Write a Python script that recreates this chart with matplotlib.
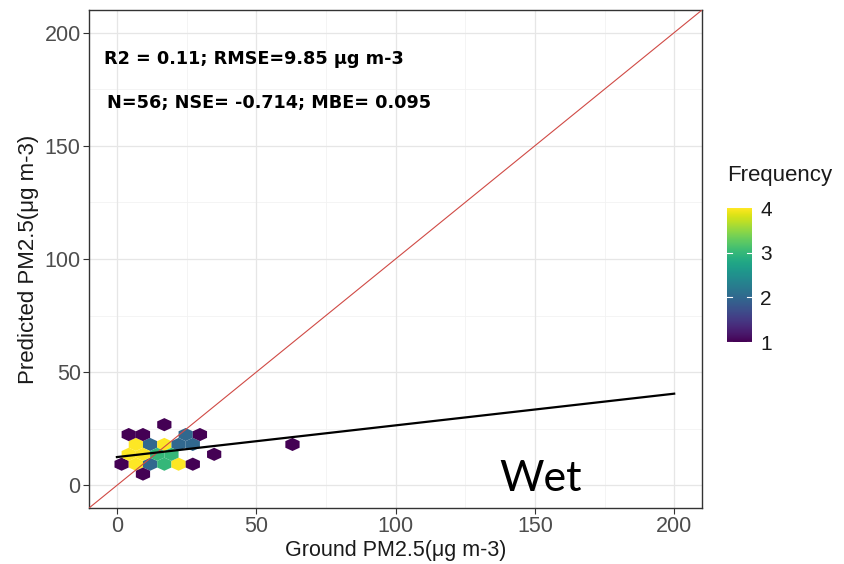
import numpy as np
import matplotlib
matplotlib.use("Agg")
import matplotlib.pyplot as plt

plt.rcParams['font.family'] = ['Liberation Sans', 'DejaVu Sans']

# hex cell readings: ground PM2.5, predicted PM2.5, number of stations in the cell
ground = [17.0,
          4.2, 9.4, 24.7, 29.8,
          6.8, 11.9, 17.0, 22.1, 27.2, 63.0,
          4.2, 9.4, 14.5, 19.6, 34.9,
          1.7, 6.8, 11.9, 17.0, 22.1, 27.2,
          9.4]
predicted = [26.8,
             22.45, 22.45, 22.45, 22.45,
             18.1, 18.1, 18.1, 18.1, 18.1, 18.1,
             13.7, 13.7, 13.7, 13.7, 13.7,
             9.35, 9.35, 9.35, 9.35, 9.35, 9.35,
             5.0]
counts = [1,
          1, 1, 2, 1,
          4, 2, 4, 2, 2, 1,
          4, 4, 3, 3, 1,
          1, 4, 2, 3, 4, 1,
          1]

# fitted regression line
fit_intercept = 12.5
fit_slope = 0.14

stats_line1 = "R2 = 0.11; RMSE=9.85 \u03bcg m-3"
stats_line2 = "N=56; NSE= -0.714; MBE= 0.095"

ticks = [0, 50, 100, 150, 200]
minor = [25, 75, 125, 175]

gx = np.repeat(ground, counts)
gy = np.repeat(predicted, counts)

fig = plt.figure(figsize=(8.44, 5.64), dpi=100)
ax = fig.add_axes([0.1055, 0.0993, 0.7263, 0.883])

ax.set_xlim(-10, 210)
ax.set_ylim(-10, 210)

# grid like theme_bw
for v in minor:
    ax.axvline(v, color='#f2f2f2', lw=0.6, zorder=0)
    ax.axhline(v, color='#f2f2f2', lw=0.6, zorder=0)
for v in ticks:
    ax.axvline(v, color='#e6e6e6', lw=0.9, zorder=0)
    ax.axhline(v, color='#e6e6e6', lw=0.9, zorder=0)

# hex bins
sx, sy = 5.11, 8.73
x0, y0 = -3.42, -8.11
hb = ax.hexbin(gx, gy, gridsize=(20, 6),
               extent=(x0, x0 + 20 * sx, y0, y0 + 6 * sy),
               mincnt=1, cmap='viridis', vmin=1, vmax=4,
               linewidths=0, zorder=2)

# 1:1 line
ax.plot([-10, 210], [-10, 210], color='#d04a45', lw=0.8, zorder=3)

# regression line
xs = np.array([0, 200])
ax.plot(xs, fit_intercept + fit_slope * xs, color='black', lw=1.6, zorder=4)

ax.text(-4.6, 188.5, stats_line1, fontsize=12.7, fontweight='bold',
        family='DejaVu Sans', va='center', ha='left')
ax.text(-3.4, 169.0, stats_line2, fontsize=12.7, fontweight='bold',
        family='DejaVu Sans', va='center', ha='left')

ax.text(152, 3.0, "Wet", fontsize=31, family='Lato', ha='center', va='center')

ax.set_xticks(ticks)
ax.set_yticks(ticks)
ax.tick_params(labelsize=15.5, labelcolor='#4d4d4d', color='#333333', length=4, width=0.8, pad=2)
for s in ax.spines.values():
    s.set_color('#333333')
    s.set_linewidth(1.0)

ax.set_xlabel("Ground PM2.5(\u03bcg m-3)", fontsize=15.5, color='#1a1a1a', labelpad=2)
ax.set_ylabel("Predicted PM2.5(\u03bcg m-3)", fontsize=16, color='#1a1a1a', labelpad=4)

# colour legend
cax = fig.add_axes([0.8614, 0.3936, 0.0296, 0.2376])
cb = fig.colorbar(hb, cax=cax, ticks=[1, 2, 3, 4])
cb.outline.set_visible(False)
cax.tick_params(labelsize=15, length=0, pad=6, labelcolor='#1a1a1a')
for t in [1, 2, 3]:
    cax.plot([0, 0.2], [t, t], color='white', lw=0.8, transform=cax.get_yaxis_transform())
    cax.plot([0.8, 1.0], [t, t], color='white', lw=0.8, transform=cax.get_yaxis_transform())
fig.text(0.8614, 0.670, "Frequency", fontsize=16, ha='left', va='bottom', color='#1a1a1a')

fig.savefig("out.png", dpi=100)
